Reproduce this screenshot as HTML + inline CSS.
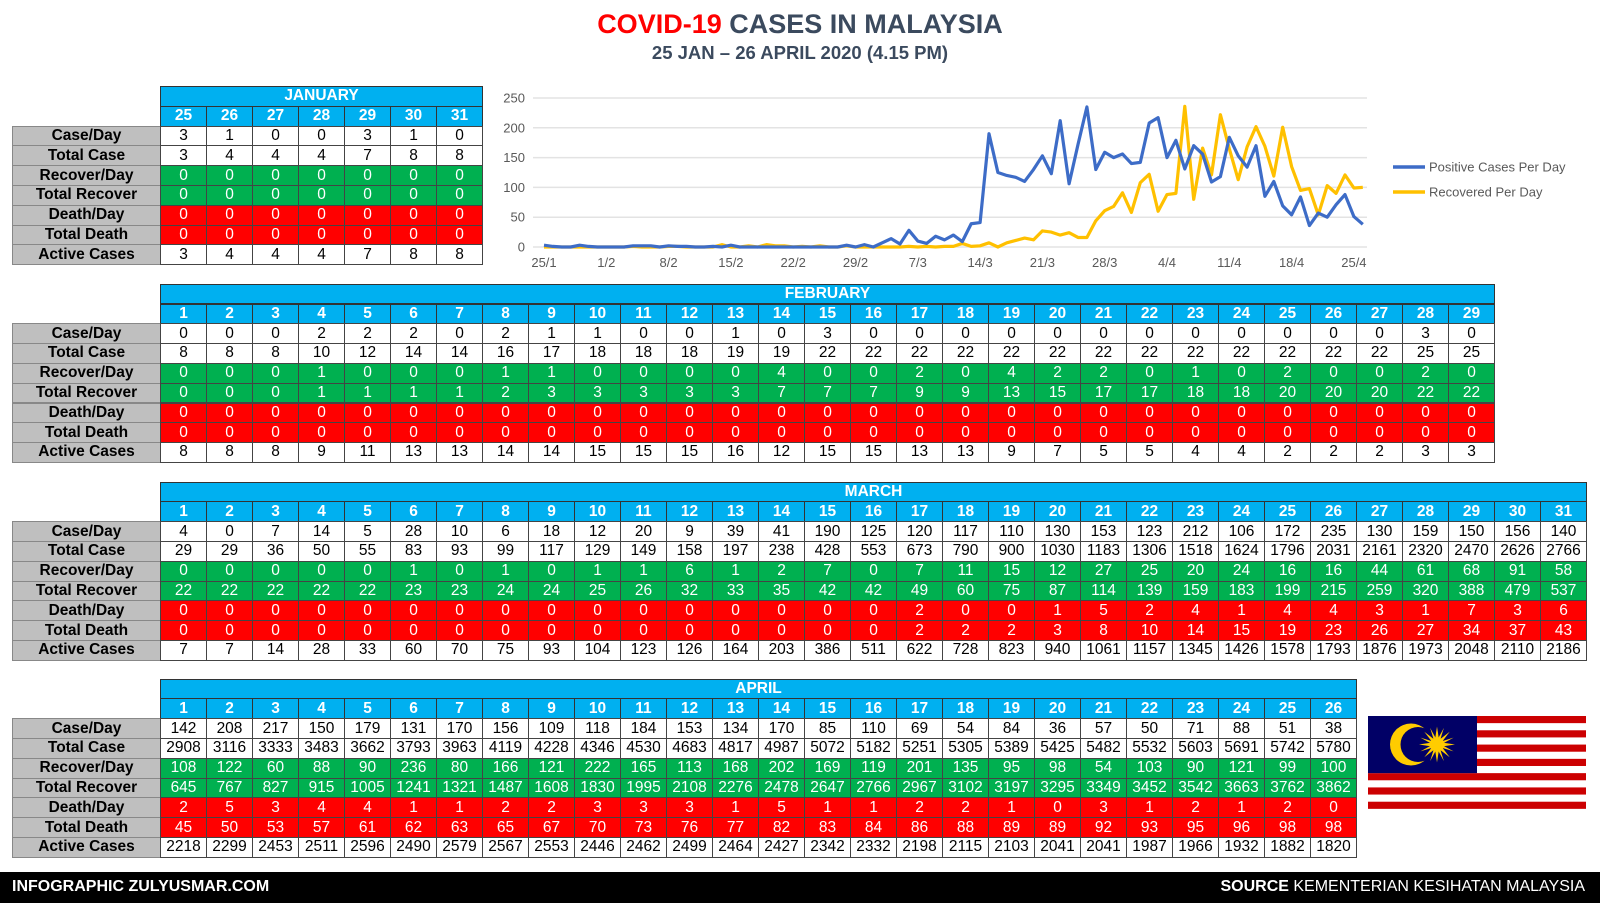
<!DOCTYPE html>
<html><head><meta charset="utf-8"><style>
*{margin:0;padding:0;box-sizing:border-box}
body{width:1600px;height:907px;background:#fff;position:relative;overflow:hidden;font-family:"Liberation Sans",Arial,sans-serif}
.c{position:absolute;display:flex;align-items:center;justify-content:center;font-size:15.5px;color:#000;border:1px solid #444;white-space:nowrap}
.lab{background:#bfbfbf;font-weight:bold;border-color:#888}
.hd{background:#00b0f0;color:#fff;font-weight:bold;border-color:#333}
.g{background:#00b050;color:#fff}
.r{background:#ff0000;color:#fff}
.w{background:#fff}
#title{position:absolute;left:0;width:1600px;top:9px;text-align:center;font-size:27px;font-weight:bold;color:#3b4a5e}
#sub{position:absolute;left:0;width:1600px;top:42px;text-align:center;font-size:18.5px;font-weight:bold;color:#3b4a5e}
#footer{position:absolute;left:0;top:872px;width:1600px;height:31px;background:#000;color:#fff;font-size:16px}
</style></head><body>
<div id="title"><span style="color:#f00">COVID-19</span> CASES IN MALAYSIA</div>
<div id="sub">25 JAN – 26 APRIL 2020 (4.15 PM)</div>
<svg id="chart" style="position:absolute;left:0;top:0" width="1600" height="300"></svg>
<svg style="position:absolute;left:1368px;top:716px" width="218" height="100" viewBox="0 0 218 100">
<rect width="218" height="100" fill="#fff"/>
<g fill="#cc0001"><rect y="0" width="218" height="7.14"/><rect y="14.28" width="218" height="7.14"/><rect y="28.57" width="218" height="7.14"/><rect y="42.85" width="218" height="7.14"/><rect y="57.14" width="218" height="7.14"/><rect y="71.42" width="218" height="7.14"/><rect y="85.71" width="218" height="7.14"/></g>
<rect width="109" height="57.14" fill="#010066"/>
<circle cx="43" cy="28.5" r="21" fill="#fc0"/><circle cx="50" cy="28.5" r="17.5" fill="#010066"/>
<g fill="#fc0" transform="translate(69,28.5)"><circle r="7"/>
<polygon points="0,-18 2,-5 0,0 -2,-5" /><polygon points="0,18 2,5 0,0 -2,5"/><polygon points="18,0 5,2 0,0 5,-2"/><polygon points="-18,0 -5,2 0,0 -5,-2"/>
<polygon points="12.7,-12.7 4.5,-2 0,0 2,-4.5"/><polygon points="-12.7,12.7 -4.5,2 0,0 -2,4.5"/><polygon points="12.7,12.7 2,4.5 0,0 4.5,2"/><polygon points="-12.7,-12.7 -2,-4.5 0,0 -4.5,-2"/>
<polygon points="6.9,-16.6 3,-4 0,0 0.5,-5"/><polygon points="-6.9,16.6 -3,4 0,0 -0.5,5"/><polygon points="16.6,6.9 4,3 0,0 5,0.5"/><polygon points="-16.6,-6.9 -4,-3 0,0 -5,-0.5"/>
<polygon points="16.6,-6.9 4,-3 0,0 5,-0.5"/><polygon points="-16.6,6.9 -4,3 0,0 -5,0.5"/><polygon points="6.9,16.6 3,4 0,0 0.5,5"/><polygon points="-6.9,-16.6 -3,-4 0,0 -0.5,-5"/>
</g></svg>
<div id="footer">
<span style="position:absolute;left:12px;top:6px;font-weight:bold">INFOGRAPHIC ZULYUSMAR.COM</span>
<span style="position:absolute;right:15px;top:6px"><b>SOURCE</b> KEMENTERIAN KESIHATAN MALAYSIA</span>
</div>
<script>
const rowLabels=["Case/Day","Total Case","Recover/Day","Total Recover","Death/Day","Total Death","Active Cases"];
const janDays=[25,26,27,28,29,30,31];
const janCase=[3,1,0,0,3,1,0];
const janTotal=[3,4,4,4,7,8,8];
const janRec=[0,0,0,0,0,0,0];
const janTotRec=[0,0,0,0,0,0,0];
const janDeath=[0,0,0,0,0,0,0];
const janTotDeath=[0,0,0,0,0,0,0];
const janActive=[3,4,4,4,7,8,8];
const febCase=[0,0,0,2,2,2,0,2,1,1,0,0,1,0,3,0,0,0,0,0,0,0,0,0,0,0,0,3,0];
const febTotal=[8,8,8,10,12,14,14,16,17,18,18,18,19,19,22,22,22,22,22,22,22,22,22,22,22,22,22,25,25];
const febRec=[0,0,0,1,0,0,0,1,1,0,0,0,0,4,0,0,2,0,4,2,2,0,1,0,2,0,0,2,0];
const febTotRec=[0,0,0,1,1,1,1,2,3,3,3,3,3,7,7,7,9,9,13,15,17,17,18,18,20,20,20,22,22];
const febDeath=[0,0,0,0,0,0,0,0,0,0,0,0,0,0,0,0,0,0,0,0,0,0,0,0,0,0,0,0,0];
const febTotDeath=[0,0,0,0,0,0,0,0,0,0,0,0,0,0,0,0,0,0,0,0,0,0,0,0,0,0,0,0,0];
const febActive=[8,8,8,9,11,13,13,14,14,15,15,15,16,12,15,15,13,13,9,7,5,5,4,4,2,2,2,3,3];
const marCase=[4,0,7,14,5,28,10,6,18,12,20,9,39,41,190,125,120,117,110,130,153,123,212,106,172,235,130,159,150,156,140];
const marTotal=[29,29,36,50,55,83,93,99,117,129,149,158,197,238,428,553,673,790,900,1030,1183,1306,1518,1624,1796,2031,2161,2320,2470,2626,2766];
const marRec=[0,0,0,0,0,1,0,1,0,1,1,6,1,2,7,0,7,11,15,12,27,25,20,24,16,16,44,61,68,91,58];
const marTotRec=[22,22,22,22,22,23,23,24,24,25,26,32,33,35,42,42,49,60,75,87,114,139,159,183,199,215,259,320,388,479,537];
const marDeath=[0,0,0,0,0,0,0,0,0,0,0,0,0,0,0,0,2,0,0,1,5,2,4,1,4,4,3,1,7,3,6];
const marTotDeath=[0,0,0,0,0,0,0,0,0,0,0,0,0,0,0,0,2,2,2,3,8,10,14,15,19,23,26,27,34,37,43];
const marActive=[7,7,14,28,33,60,70,75,93,104,123,126,164,203,386,511,622,728,823,940,1061,1157,1345,1426,1578,1793,1876,1973,2048,2110,2186];
const aprCase=[142,208,217,150,179,131,170,156,109,118,184,153,134,170,85,110,69,54,84,36,57,50,71,88,51,38];
const aprTotal=[2908,3116,3333,3483,3662,3793,3963,4119,4228,4346,4530,4683,4817,4987,5072,5182,5251,5305,5389,5425,5482,5532,5603,5691,5742,5780];
const aprRec=[108,122,60,88,90,236,80,166,121,222,165,113,168,202,169,119,201,135,95,98,54,103,90,121,99,100];
const aprTotRec=[645,767,827,915,1005,1241,1321,1487,1608,1830,1995,2108,2276,2478,2647,2766,2967,3102,3197,3295,3349,3452,3542,3663,3762,3862];
const aprDeath=[2,5,3,4,4,1,1,2,2,3,3,3,1,5,1,1,2,2,1,0,3,1,2,1,2,0];
const aprTotDeath=[45,50,53,57,61,62,63,65,67,70,73,76,77,82,83,84,86,88,89,89,92,93,95,96,98,98];
const aprActive=[2218,2299,2453,2511,2596,2490,2579,2567,2553,2446,2462,2499,2464,2427,2342,2332,2198,2115,2103,2041,2041,1987,1966,1932,1882,1820];
const xTickLabels=["25/1","1/2","8/2","15/2","22/2","29/2","7/3","14/3","21/3","28/3","4/4","11/4","18/4","25/4"];
const yTicks=[0,50,100,150,200,250];
const seriesCases=[].concat(janCase,febCase,marCase,aprCase);
const seriesRecovered=[].concat(janRec,febRec,marRec,aprRec);

const L=12,X0=160,CW=46,RH=19.8;
const cls=["w","w","g","g","r","r","w"];
function cell(x,y,w,h,c,t){const d=document.createElement('div');d.className='c '+c;d.style.left=x+'px';d.style.top=y+'px';d.style.width=(w+1)+'px';d.style.height=(h+1)+'px';d.textContent=t;document.body.appendChild(d);return d;}
function table(name,days,rows,top){
  const n=days.length;
  const h=cell(X0,top,n*CW,RH,'hd',name);
  
  
  days.forEach((d,i)=>{const e=cell(X0+i*CW,top+RH,CW,RH,'hd',d);
    
    });
  rows.forEach((arr,r)=>{const y=top+RH*(2+r);
    const lb=cell(L,y,X0-L,RH,'lab',rowLabels[r]);
    
    
    arr.forEach((v,i)=>{const e=cell(X0+i*CW,y,CW,RH,cls[r],v);
      
      });
  });
}
const rng=n=>Array.from({length:n},(_,i)=>i+1);
table('JANUARY',janDays,[janCase,janTotal,janRec,janTotRec,janDeath,janTotDeath,janActive],86);
table('FEBRUARY',rng(29),[febCase,febTotal,febRec,febTotRec,febDeath,febTotDeath,febActive],283.7);
table('MARCH',rng(31),[marCase,marTotal,marRec,marTotRec,marDeath,marTotDeath,marActive],481.6);
table('APRIL',rng(26),[aprCase,aprTotal,aprRec,aprTotRec,aprDeath,aprTotDeath,aprActive],678.6);

// chart
const svg=document.getElementById('chart'),NS='http://www.w3.org/2000/svg';
const xs=i=>544+i*8.9, ys=v=>247-v*(149/250);
function el(t,a){const e=document.createElementNS(NS,t);for(const k in a)e.setAttribute(k,a[k]);svg.appendChild(e);return e;}
yTicks.forEach(v=>{
  const g=el('line',{x1:533,x2:1367,y1:ys(v),y2:ys(v),stroke:'#e3e3e3','stroke-width':1.5});
  
  
  const t=el('text',{x:525,y:ys(v)+4.5,'text-anchor':'end','font-size':13,fill:'#595959','font-family':'Liberation Sans, sans-serif'});
  t.textContent=v;
  
  
});
xTickLabels.forEach((s,k)=>{
  const t=el('text',{x:xs(k*7),y:267,'text-anchor':'middle','font-size':13,fill:'#595959','font-family':'Liberation Sans, sans-serif'});
  t.textContent=s;
  
  
});
function line(arr,col,name){
  const p=el('polyline',{points:arr.map((v,i)=>xs(i)+','+ys(v)).join(' '),fill:'none',stroke:col,'stroke-width':3.2,'stroke-linejoin':'round'});
  
  
}
line(seriesRecovered,'#ffc000','recovered-line');
line(seriesCases,'#3d6cc7','positive-cases-line');
[['Positive Cases Per Day','#3d6cc7',167],['Recovered Per Day','#ffc000',192]].forEach(([s,c,y])=>{
  const l=el('line',{x1:1393,x2:1425,y1:y,y2:y,stroke:c,'stroke-width':3.5});
  
  
  const t=el('text',{x:1429,y:y+4.5,'font-size':13,fill:'#595959','font-family':'Liberation Sans, sans-serif'});
  t.textContent=s;
  
  
});
</script>
</body></html>
